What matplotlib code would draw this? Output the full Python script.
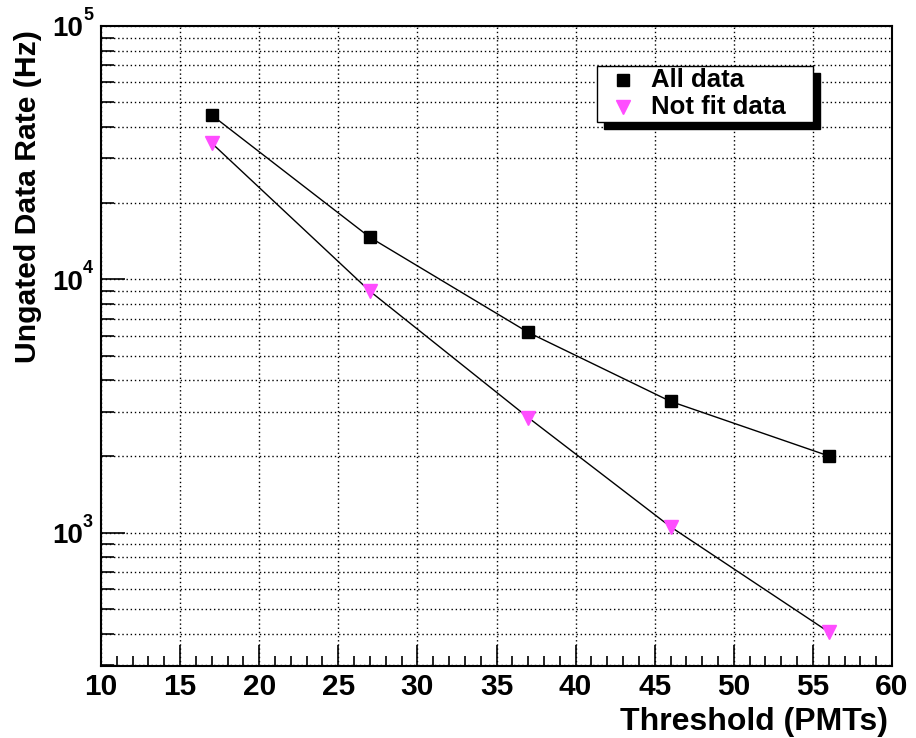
import matplotlib
matplotlib.use("Agg")
import matplotlib.pyplot as plt
from matplotlib.lines import Line2D
from matplotlib.patches import Rectangle
from matplotlib.ticker import FixedLocator, NullFormatter
from matplotlib.transforms import blended_transform_factory, offset_copy

# ---- data ----
threshold = [17, 27, 37, 46, 56]
all_data = [44500, 14650, 6180, 3300, 2010]
not_fit_data = [34500, 8980, 2850, 1056, 406]
series_labels = ["All data", "Not fit data"]
x_ticks = [10, 15, 20, 25, 30, 35, 40, 45, 50, 55, 60]
y_major = [1e3, 1e4, 1e5]
y_exponents = ["3", "4", "5"]
x_title = "Threshold (PMTs)"
y_title = "Ungated Data Rate (Hz)"

plt.rcParams["font.family"] = ["Liberation Sans", "DejaVu Sans"]

W, H = 916, 738
fig = plt.figure(figsize=(W / 100, H / 100), dpi=100)
L, R, T, B = 101, 892, 26, 666
ax = fig.add_axes([L / W, 1 - B / H, (R - L) / W, (B - T) / H])

magenta = "#ff4dff"
ax.plot(threshold, all_data, color="black", lw=1.0, zorder=3)
ax.plot(threshold, not_fit_data, color="black", lw=1.0, zorder=3)
ax.plot(threshold, all_data, ls="none", marker="s", ms=8.5, color="black", zorder=4)
ax.plot(threshold, not_fit_data, ls="none", marker="v", ms=9.5, color=magenta, mec=magenta, zorder=4)

ax.set_yscale("log")
ax.set_xlim(10, 60)
ax.set_ylim(298, 1e5)

# x ticks
ax.xaxis.set_major_locator(FixedLocator(x_ticks))
ax.xaxis.set_minor_locator(FixedLocator([v for v in range(10, 61) if v % 5 != 0]))
ax.set_xticklabels([str(v) for v in x_ticks], fontsize=21.5, fontweight="bold")
ax.tick_params(axis="x", which="major", direction="in", length=15, width=1.2, pad=5)
ax.tick_params(axis="x", which="minor", direction="in", length=7, width=1.2)

# y ticks
minor_y = []
for dec in [1e2, 1e3, 1e4]:
    for m in range(2, 10):
        v = m * dec
        if 298 <= v <= 1e5:
            minor_y.append(v)
ax.yaxis.set_major_locator(FixedLocator(y_major))
ax.yaxis.set_minor_locator(FixedLocator(minor_y))
ax.yaxis.set_minor_formatter(NullFormatter())
ax.set_yticklabels([])
ax.tick_params(axis="y", which="major", direction="in", length=17, width=1.2)
ax.tick_params(axis="y", which="minor", direction="in", length=9, width=1.2)
ax.tick_params(top=False, right=False)

# ROOT-style "10^n" labels
btr = blended_transform_factory(ax.transAxes, ax.transData)
for v, e in zip(y_major, y_exponents):
    t1 = offset_copy(btr, fig=fig, x=-18, y=-3.5, units="dots")
    ax.text(0, v, "10", transform=t1, ha="right", va="center", fontsize=20,
            fontweight="bold", clip_on=False)
    t2 = offset_copy(btr, fig=fig, x=-18, y=6, units="dots")
    ax.text(0, v, e, transform=t2, ha="left", va="baseline", fontsize=13,
            fontweight="bold", clip_on=False)

for s in ax.spines.values():
    s.set_linewidth(1.5)

ax.grid(True, which="major", axis="x", color="black", lw=1.0, ls=(0, (1, 2)))
ax.grid(True, which="both", axis="y", color="black", lw=1.0, ls=(0, (1, 2)))
ax.set_axisbelow(True)

# axis titles
fig.text(888 / W, 1 - 730 / H, x_title, ha="right", va="baseline",
         fontsize=23, fontweight="bold")
fig.text(28 / W, 1 - 30 / H, y_title, ha="center", va="top", rotation=90,
         fontsize=21.7, fontweight="bold")

# legend with ROOT-style shadow
lx0, ly0, lx1, ly1 = 597, 66, 813, 122
off = 7
fig.patches.append(Rectangle(((lx0 + off) / W, 1 - (ly1 + off) / H), (lx1 - lx0) / W,
                             (ly1 - ly0) / H, transform=fig.transFigure,
                             facecolor="black", edgecolor="black", zorder=5))
fig.patches.append(Rectangle((lx0 / W, 1 - ly1 / H), (lx1 - lx0) / W, (ly1 - ly0) / H,
                             transform=fig.transFigure, facecolor="white",
                             edgecolor="black", lw=1.0, zorder=6))
leg_rows = [80, 107]
leg_styles = [dict(marker="s", ms=8.5, color="black"),
              dict(marker="v", ms=9.5, color=magenta, mec=magenta)]
for lab, yy, st in zip(series_labels, leg_rows, leg_styles):
    fig.add_artist(Line2D([623 / W], [1 - yy / H], ls="none", transform=fig.transFigure,
                          zorder=7, **st))
    fig.text(651 / W, 1 - yy / H, lab, ha="left", va="center", fontsize=18.5,
             fontweight="bold", zorder=7)

fig.savefig("out.png", dpi=100)
